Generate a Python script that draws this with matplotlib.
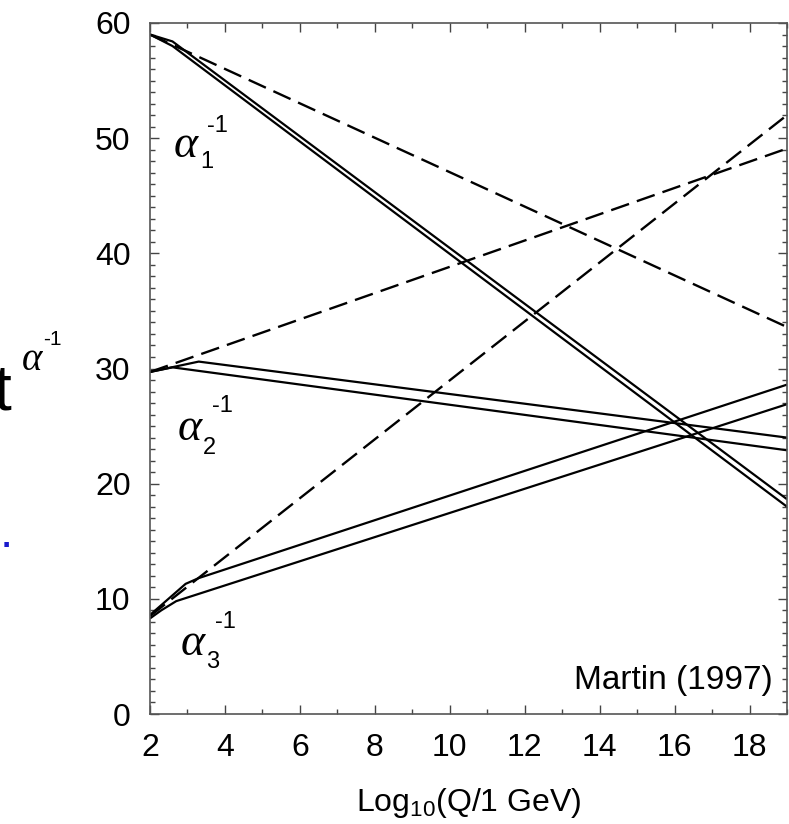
import matplotlib
matplotlib.use("Agg")
import matplotlib.pyplot as plt
from matplotlib.ticker import MultipleLocator

plt.rcParams["font.family"] = ["Liberation Sans", "DejaVu Sans"]

# 标准模型 (单圈, 直线)
q_sm = [2, 19]
a1_sm = [59.0, 33.6]
a2_sm = [29.7, 49.1]
a3_sm = [8.5, 52.0]

# MSSM (双线, 带阈值拐点)
q_a1_hi = [2, 2.6, 19]
a1_hi = [59.0, 58.4, 18.65]
q_a1_lo = [2, 2.6, 19]
a1_lo = [59.0, 58.0, 18.0]

q_a2_hi = [2, 3.3, 19]
a2_hi = [29.7, 30.6, 24.0]
q_a2_lo = [2, 2.6, 19]
a2_lo = [29.7, 30.1, 22.9]

q_a3_hi = [2, 2.95, 3.3, 19]
a3_hi = [8.6, 11.3, 11.8, 28.6]
q_a3_lo = [2, 2.3, 2.7, 19]
a3_lo = [8.3, 9.0, 9.8, 26.9]

W, H = 789, 824
fig = plt.figure(figsize=(W / 100, H / 100), dpi=100)
ax = fig.add_axes([150 / W, 1 - 714 / H, 637 / W, 691 / H])

dash = dict(color="black", lw=1.7, ls=(0, (8, 3.5)))
solid = dict(color="black", lw=1.6, solid_capstyle="butt")

ax.plot(q_sm, a1_sm, **dash)
ax.plot(q_sm, a2_sm, **dash)
ax.plot(q_sm, a3_sm, **dash)

ax.plot(q_a1_hi, a1_hi, **solid)
ax.plot(q_a1_lo, a1_lo, **solid)
ax.plot(q_a2_hi, a2_hi, **solid)
ax.plot(q_a2_lo, a2_lo, **solid)
ax.plot(q_a3_hi, a3_hi, **solid)
ax.plot(q_a3_lo, a3_lo, **solid)

ax.set_xlim(2, 19)
ax.set_ylim(0, 60)
ax.xaxis.set_major_locator(MultipleLocator(2))
ax.xaxis.set_minor_locator(MultipleLocator(1))
ax.yaxis.set_major_locator(MultipleLocator(10))
ax.yaxis.set_minor_locator(MultipleLocator(1))
ax.tick_params(which="both", direction="in", top=True, right=True,
               color="#444444", width=1.0, labelsize=23)
ax.tick_params(which="major", length=6.5, pad=14)
ax.tick_params(which="minor", length=3.6)
for s in ax.spines.values():
    s.set_color("#555555")
    s.set_linewidth(1.2)

ax.set_xlabel(r"Log$_{\mathregular{10}}$(Q/1 GeV)", fontsize=23, labelpad=16)

# 曲线标签
greek = dict(family="Liberation Serif", style="italic", fontsize=33, va="baseline", ha="left")
small = dict(fontsize=17, va="baseline", ha="left")
for (xa, ya), (xs, ys, sub), (xp, yp) in [
    ((2.62, 48.35), (3.33, 47.4, "1"), (3.52, 50.5)),
    ((2.75, 23.8), (3.42, 22.6, "2"), (3.65, 26.2)),
    ((2.83, 5.1), (3.50, 4.0, "3"), (3.73, 7.5)),
]:
    ax.text(xa, ya, "α", **greek)
    ax.text(xs, ys, sub, **small)
    ax.text(xp, yp, "-1", **small)

ax.text(18.62, 2.2, "Martin (1997)", fontsize=24, ha="right", va="baseline")

# 左侧被裁切的幻灯片文字
fig.text(12 / W, 1 - 410 / H, "t", fontsize=46, ha="right", va="baseline")
fig.text(22 / W, 1 - 370 / H, "α", family="Liberation Serif", style="italic",
         fontsize=28, ha="left", va="baseline")
fig.text(43 / W, 1 - 345 / H, "-1", fontsize=15, ha="left", va="baseline")
fig.text(13 / W, 1 - 547 / H, ".", fontsize=34, color="#1a1acc",
         ha="right", va="baseline")

fig.savefig("out.png", dpi=100)
